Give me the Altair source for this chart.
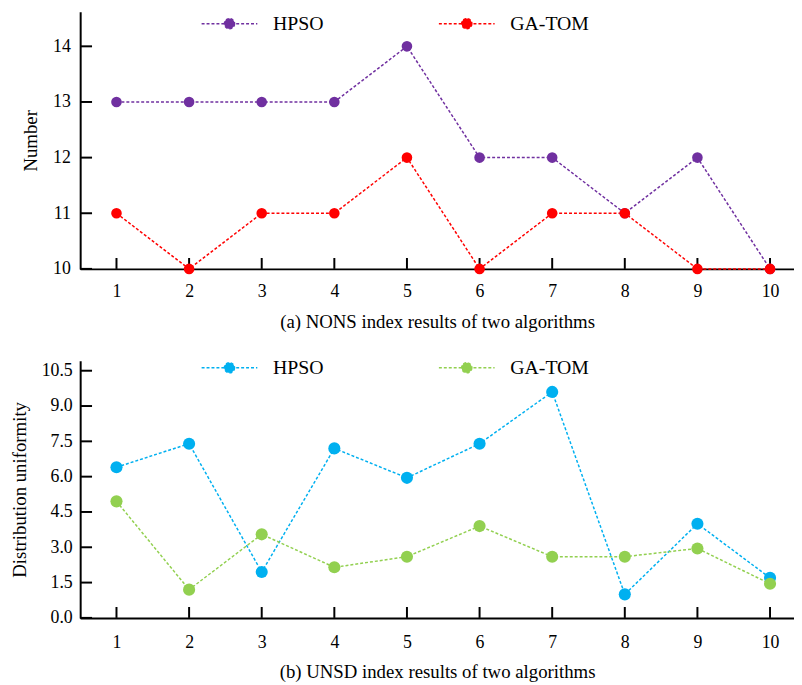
import altair as alt
import pandas as pd

# ---------------- data ----------------
x_vals = [1, 2, 3, 4, 5, 6, 7, 8, 9, 10]
series_names = ["HPSO", "GA-TOM"]

nons_hpso = [13, 13, 13, 13, 14, 12, 12, 11, 12, 10]
nons_gatom = [11, 10, 11, 11, 12, 10, 11, 11, 10, 10]

unsd_hpso = [6.4, 7.4, 1.95, 7.2, 5.95, 7.4, 9.6, 1.0, 4.0, 1.7]
unsd_gatom = [4.95, 1.2, 3.55, 2.15, 2.6, 3.9, 2.6, 2.6, 2.95, 1.45]

nons_ticks = [10, 11, 12, 13, 14]
unsd_ticks = [0.0, 1.5, 3.0, 4.5, 6.0, 7.5, 9.0, 10.5]

nons_colors = ["#7030A0", "#FF0000"]
unsd_colors = ["#00B0F0", "#92D050"]

# ---------------- style ----------------
W, H = 722, 260
FONT = "Liberation Serif"
FS = 18
SYMBOL_PATH = "M-4.1,0L4.1,0M0.75,0A0.75,0.75,0,1,1,-0.75,0A0.75,0.75,0,1,1,0.75,0Z"


def panel(hpso, gatom, colors, ydom, yticks, yfmt, ytitle, caption, legend_y,
          marker, ylabpad, ytitlepad, xlabpad, xtitlepad):
    df = pd.DataFrame({
        "x": x_vals * 2,
        "value": hpso + gatom,
        "series": ["HPSO"] * len(x_vals) + ["GA-TOM"] * len(x_vals),
        "k": [0] * len(x_vals) + [1] * len(x_vals),
    })
    xs = alt.Scale(domain=[0.5, 10.33], nice=False, zero=False)
    ys = alt.Scale(domain=ydom, nice=False, zero=False)
    x_enc = alt.X("x:Q", scale=xs, axis=alt.Axis(
        values=x_vals, title=caption, ticks=False, grid=False,
        domainColor="black", domainWidth=2, labelColor="black",
        labelFont=FONT, labelFontSize=FS, labelPadding=xlabpad,
        titleFont=FONT, titleFontSize=19, titleFontWeight="normal",
        titleColor="black", titlePadding=xtitlepad))
    y_enc = alt.Y("value:Q", scale=ys, axis=alt.Axis(
        values=yticks, format=yfmt, title=ytitle, ticks=False, grid=False,
        domainColor="black", domainWidth=2, labelColor="black",
        labelFont=FONT, labelFontSize=FS, labelPadding=ylabpad,
        titleFont=FONT, titleFontSize=19, titleFontWeight="normal",
        titleColor="black", titlePadding=ytitlepad))
    leg = alt.Legend(
        orient="none", legendX=141, legendY=legend_y, direction="horizontal",
        title=None, symbolType=SYMBOL_PATH, symbolSize=189,
        symbolStrokeWidth=1.5, symbolDash=[3, 2], symbolOpacity=1,
        labelFont=FONT, labelFontSize=20, labelColor="black",
        labelOffset=34, columnPadding=112, padding=0)
    sc = alt.Scale(domain=series_names, range=colors)

    lines = alt.Chart(df).mark_line(strokeDash=[3, 2], strokeWidth=1.5).encode(
        x=x_enc, y=y_enc, stroke=alt.Stroke("series:N", scale=sc, legend=leg))
    pts = alt.Chart(df).mark_circle(size=marker, opacity=1).encode(
        x=x_enc, y=y_enc, fill=alt.Fill("series:N", scale=sc, legend=leg),
        order=alt.Order("k:Q"))
    xt = alt.Chart(pd.DataFrame({"x": x_vals})).mark_rule(
        color="black", strokeWidth=2).encode(
        x=x_enc, y=alt.value(H), y2=alt.value(H - 11))
    yt = alt.Chart(pd.DataFrame({"value": yticks})).mark_rule(
        color="black", strokeWidth=2).encode(
        y=y_enc, x=alt.value(0), x2=alt.value(12))
    return alt.layer(xt, yt, lines, pts).properties(width=W, height=H)


top = panel(nons_hpso, nons_gatom, nons_colors, [10, 14.62], nons_ticks, "d",
            "Number", "(a) NONS index results of two algorithms", 2,
            115, 10, 12, 14, 12)
bottom = panel(unsd_hpso, unsd_gatom, unsd_colors, [0, 10.92], unsd_ticks, ".1f",
               "Distribution uniformity", "(b) UNSD index results of two algorithms", -3,
               150, 8, 12, 16, 11)

chart = alt.vconcat(top, bottom, spacing=27).resolve_scale(
    stroke="independent", fill="independent").resolve_legend(
    stroke="independent", fill="independent").properties(
    padding={"left": 2, "top": 0, "right": 0, "bottom": 0}
).configure_view(stroke=None)

chart.save("out.html", embed_options={"renderer": "svg", "actions": False})
